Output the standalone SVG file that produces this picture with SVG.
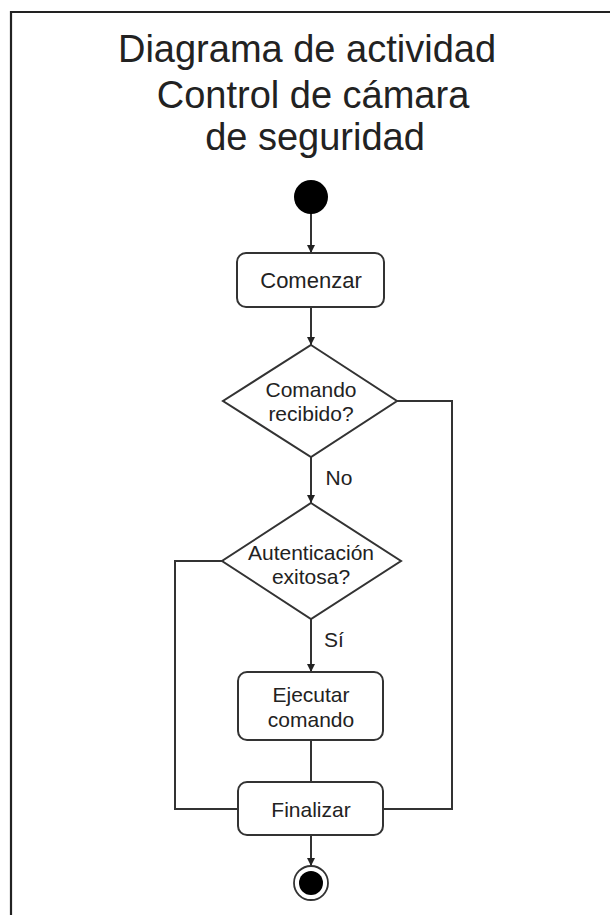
<svg xmlns="http://www.w3.org/2000/svg" width="610" height="915" viewBox="0 0 610 915">
<style>
.t{font-family:"Liberation Sans",Arial,sans-serif;fill:#222;text-anchor:middle}
.title{font-size:38px}
.lbl{font-size:21px}
.box{fill:#fff;stroke:#333;stroke-width:2}
.ln{fill:none;stroke:#333;stroke-width:2}
</style>
<defs>
<marker id="ah" viewBox="0 0 10 10" refX="10" refY="5" markerWidth="8" markerHeight="8" markerUnits="userSpaceOnUse" orient="auto">
<path d="M0,0 L10,5 L0,10 Z" fill="#222"/>
</marker>
</defs>
<rect width="610" height="915" fill="#fff"/>
<path d="M11,915 V12 H612" fill="none" stroke="#222" stroke-width="2.2"/>
<g id="title">
<text class="t title" x="307" y="62">Diagrama de actividad</text>
<text class="t title" x="313" y="108">Control de cámara</text>
<text class="t title" x="315" y="150">de seguridad</text>
</g>
<g id="connectors">
<line class="ln" x1="311" y1="213" x2="311" y2="253" marker-end="url(#ah)"/>
<line class="ln" x1="311" y1="307" x2="311" y2="345" marker-end="url(#ah)"/>
<line class="ln" x1="311" y1="457" x2="311" y2="503" marker-end="url(#ah)"/>
<polyline class="ln" points="397,401 452,401 452,809 383,809"/>
<polyline class="ln" points="222,561 175,561 175,809 238,809"/>
<line class="ln" x1="311" y1="619" x2="311" y2="672" marker-end="url(#ah)"/>
<line class="ln" x1="311" y1="740" x2="311" y2="782"/>
<line class="ln" x1="311" y1="835" x2="311" y2="866" marker-end="url(#ah)"/>
<text class="t lbl" x="339" y="485">No</text>
<text class="t lbl" x="334" y="647">Sí</text>
</g>
<g id="start">
<circle cx="311" cy="197" r="17" fill="#000"/>
</g>
<g id="comenzar">
<rect class="box" x="237" y="253" width="147" height="54" rx="9"/>
<text class="t" x="311" y="288" font-size="22">Comenzar</text>
</g>
<g id="comando-recibido">
<polygon class="box" points="311,345 397,401 311,457 223,401"/>
<text class="t lbl" x="311" y="397">Comando</text>
<text class="t lbl" x="311" y="421">recibido?</text>
</g>
<g id="autenticacion">
<polygon class="box" points="311,503 401,561 311,619 222,561"/>
<text class="t lbl" x="311" y="560">Autenticación</text>
<text class="t lbl" x="311" y="584">exitosa?</text>
</g>
<g id="ejecutar">
<rect class="box" x="238" y="672" width="145" height="68" rx="9"/>
<text class="t lbl" x="311" y="702">Ejecutar</text>
<text class="t lbl" x="311" y="727">comando</text>
</g>
<g id="finalizar">
<rect class="box" x="238" y="782" width="145" height="53" rx="9"/>
<text class="t lbl" x="311" y="817">Finalizar</text>
</g>
<g id="end">
<circle cx="311" cy="883" r="17" fill="#fff" stroke="#333" stroke-width="1.8"/>
<circle cx="311" cy="883" r="12" fill="#000"/>
</g>
</svg>
